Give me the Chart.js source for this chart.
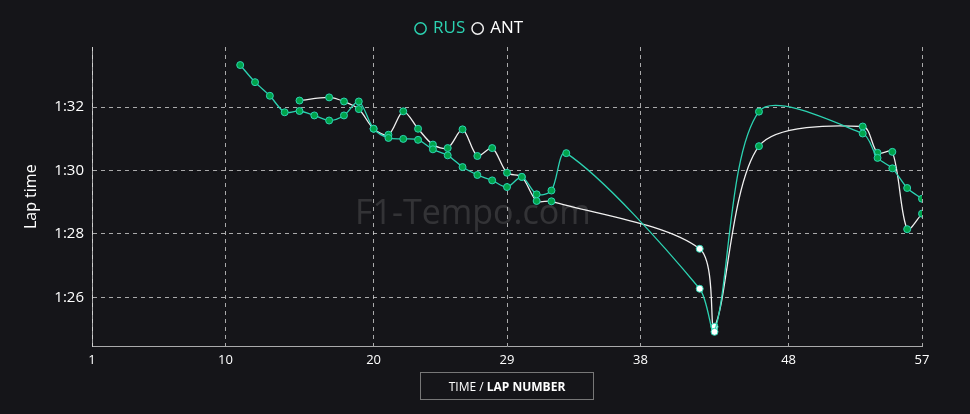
<!DOCTYPE html>
<html><head><meta charset="utf-8">
<script src="https://cdn.jsdelivr.net/npm/chart.js@4/dist/chart.umd.min.js"></script>
<style>
html,body{margin:0;padding:0;background:#151519;}
#wrap{position:relative;width:970px;height:414px;}
#wm{position:absolute;left:355px;top:188px;font:34px "Open Sans",sans-serif;color:rgba(255,255,255,0.13);pointer-events:none;}
#xt{position:absolute;left:420px;top:372px;width:174px;height:28px;border:1px solid #777;color:#fff;font:12px "Open Sans",sans-serif;display:flex;align-items:center;justify-content:center;box-sizing:border-box;}
</style></head><body>
<div id="wrap"><canvas id="c" width="970" height="414"></canvas>
<div id="wm">F1-Tempo.com</div>
<div id="xt">TIME /&nbsp;<b>LAP NUMBER</b></div></div>
<script>
const rusLaps=[11,12,13,14,15,16,17,18,19,20,21,22,23,24,25,26,27,28,29,30,31,32,33,42,43,46,53,54,55,56,57];
const rusTimes=[93.33,92.79,92.36,91.84,91.88,91.74,91.58,91.74,92.18,91.32,91.03,91.0,90.97,90.67,90.48,90.11,89.86,89.69,89.48,89.80,89.25,89.37,90.55,86.27,84.91,91.86,91.17,90.40,90.07,89.45,89.11];
const antLaps=[15,17,18,19,20,21,22,23,24,25,26,27,28,29,30,31,32,42,43,46,53,54,55,56,57];
const antTimes=[92.21,92.31,92.18,91.94,91.32,91.13,91.87,91.32,90.82,90.71,91.30,90.46,90.71,89.93,89.80,89.04,89.03,87.53,85.07,90.77,91.39,90.56,90.59,88.15,88.64];
const pitLaps=[42,43];
const yTicks=[86,88,90,92];
const xTicks=[1,10,20,29,38,48,57];
const fmt=v=>{const m=Math.floor(v/60);const s=Math.round(v-m*60);return m+':'+String(s).padStart(2,'0');};
const mk=(l,t)=>l.map((x,i)=>({x:x,y:t[i]}));
const ptFill=(ctx)=>pitLaps.includes(ctx.raw&&ctx.raw.x)?'#ffffff':'#00a34a';
const gc='rgba(220,220,220,0.75)';
const grid={color:gc,lineWidth:1,drawTicks:false};
const bord={display:true,color:gc,dash:[4,4]};
new Chart(document.getElementById('c'),{type:'line',
data:{datasets:[
{label:'RUS',data:mk(rusLaps,rusTimes),borderColor:'#2cd3b2',backgroundColor:ptFill,pointBorderColor:'#2cd3b2',borderWidth:1.3,pointRadius:3.5,pointBorderWidth:1,tension:0.3},
{label:'ANT',data:mk(antLaps,antTimes),borderColor:'#f0f0f0',backgroundColor:ptFill,pointBorderColor:'#2cd3b2',borderWidth:1.3,pointRadius:3.5,pointBorderWidth:1,tension:0.3}]},
options:{responsive:false,animation:false,
layout:{padding:{left:22,right:48,top:16,bottom:40}},
plugins:{legend:{labels:{usePointStyle:true,color:'#fff',font:{size:17,family:'Open Sans'},boxWidth:8,boxHeight:8,padding:4,
generateLabels:(ch)=>ch.data.datasets.map((d,i)=>({text:d.label+' ',fontColor:i==0?'#2cd3b2':'#fff',strokeStyle:d.borderColor,fillStyle:'#151519',lineWidth:1.5,pointStyle:'circle',datasetIndex:i}))}},tooltip:{enabled:false}},
scales:{
x:{type:'linear',min:1,max:57,grid:grid,border:bord,
afterBuildTicks:a=>{a.ticks=xTicks.map(v=>({value:v}));},
ticks:{color:'#fff',font:{size:13,family:'Open Sans'},padding:6}},
y:{min:84.45,max:93.9,grid:grid,border:bord,
afterBuildTicks:a=>{a.ticks=yTicks.map(v=>({value:v}));},
afterFit:a=>{a.width=70;},
title:{display:true,text:'Lap time',color:'#fff',font:{size:16,family:'Open Sans'},padding:0},
ticks:{color:'#fff',font:{size:15,family:'Open Sans'},padding:8,callback:v=>fmt(v)}}}}});
</script></body></html>
